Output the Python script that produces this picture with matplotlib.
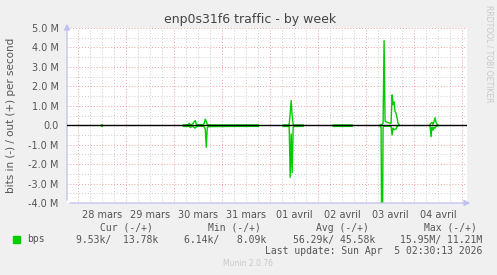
"""Munin weekly traffic graph for enp0s31f6 (rrdtool look-alike)."""

import matplotlib
matplotlib.use("Agg")
import matplotlib.pyplot as plt
import numpy as np

nan = float("nan")

# hours since 28 mars 00:00, 30-minute samples; nan = no data drawn
TIME = [11.5, 12.0, nan,
        52.5, 54.0, 55.0, 55.5, 56.0, 57.0, 58.5, 59.0, 60.0, 62.5, 63.0,
        63.5, 64.0, 64.5, 65.0, 66.0, 78.0, 90.0, nan,
        102.5, 105.0, 105.5, 106.0, 106.5, 107.0, 107.5, 108.0, 112.5, nan,
        127.5, 137.0, nan,
        151.0, 151.5, 152.0, 152.5, 153.0, 153.5, 154.5, 155.5, 156.5, 157.0,
        157.5, 158.0, 158.5, 159.0, 159.5, 160.0, 160.5, nan,
        176.0, 176.5, 177.0, 177.5, 178.0, 178.5, 179.0, 179.5, 180.0]
# out (+), Mbit/s
OUT = [0.01, 0.01, nan,
       0.01, 0.02, 0.03, 0.10, 0.02, 0.05, 0.24, 0.04, 0.03, 0.03, 0.10,
       0.31, 0.20, 0.04, 0.02, 0.01, 0.01, 0.01, nan,
       0.01, 0.01, 0.05, 0.60, 1.27, 0.50, 0.05, 0.01, 0.01, nan,
       0.01, 0.01, nan,
       0.01, 0.02, 0.05, 0.10, 4.35, 0.20, 0.15, 0.12, 0.10, 1.56,
       1.05, 1.20, 0.70, 0.62, 0.36, 0.10, 0.02, nan,
       0.02, 0.10, 0.15, 0.05, 0.20, 0.38, 0.15, 0.05, 0.01]
# in (-), Mbit/s (drawn below zero)
IN = [0.05, 0.05, nan,
      0.06, 0.06, 0.05, 0.03, 0.12, 0.05, 0.15, 0.06, 0.05, 0.05, 0.10,
      0.20, 1.13, 0.12, 0.08, 0.07, 0.06, 0.06, nan,
      0.06, 0.06, 0.08, 2.68, 0.45, 2.44, 0.10, 0.06, 0.06, nan,
      0.06, 0.06, nan,
      0.05, 0.10, 9.00, 0.10, 0.05, 0.05, 0.05, 0.05, 0.05, 0.50,
      0.15, 0.24, 0.20, 0.20, 0.07, 0.03, 0.02, nan,
      0.05, 0.59, 0.10, 0.25, 0.10, 0.15, 0.05, 0.03, 0.02]

DAY_LABELS = ["28 mars", "29 mars", "30 mars", "31 mars",
              "01 avril", "02 avril", "03 avril", "04 avril"]
Y_TICKS = [5, 4, 3, 2, 1, 0, -1, -2, -3, -4]
Y_LABELS = ["5.0 M", "4.0 M", "3.0 M", "2.0 M", "1.0 M", "0.0",
            "-1.0 M", "-2.0 M", "-3.0 M", "-4.0 M"]

LEGEND_HEAD = ["Cur (-/+)", "Min (-/+)", "Avg (-/+)", "Max (-/+)"]
LEGEND_VALS = ["9.53k/  13.78k", "6.14k/   8.09k",
               "56.29k/ 45.58k", "15.95M/ 11.21M"]

GREEN = "#00CC00"
TXT = "#555555"
W, H = 497, 275

fig = plt.figure(figsize=(W / 100, H / 100), dpi=100, facecolor="#F0F0F0")
ax = fig.add_axes([67 / W, 72 / H, 400 / W, 175 / H])
ax.set_facecolor("white")
x0, x1 = -5.7, 194.5
ax.set_xlim(x0, x1)
ax.set_ylim(-4, 5)

# grid: minor every 6 h / 0.5 M, major every day / 1 M
for h in np.arange(-6, 195, 6):
    major = h % 24 == 0
    ax.axvline(h, color="#F0A0A0" if major else "#CCCCCC", lw=0.7,
               ls=(0, (1, 2)), zorder=1)
for v in np.arange(-4, 5.01, 0.5):
    major = v == int(v)
    ax.axhline(v, color="#F0A0A0" if major else "#CCCCCC", lw=0.7,
               ls=(0, (1, 2)), zorder=1)

t = np.array(TIME)
ax.plot(t, np.array(OUT), color=GREEN, lw=1.0, zorder=3)
ax.plot(t, -np.array(IN), color=GREEN, lw=1.0, zorder=3)
ax.axhline(0, color="black", lw=1.0, zorder=4)

for s in ax.spines.values():
    s.set_visible(False)
ax.set_xticks([12 + 24 * i for i in range(len(DAY_LABELS))])
ax.set_xticklabels(DAY_LABELS)
ax.set_yticks(Y_TICKS)
ax.set_yticklabels(Y_LABELS)
ax.tick_params(length=0, labelsize=7, colors=TXT)
ax.tick_params(axis="x", pad=5)
ax.tick_params(axis="y", pad=6)

# axis lines with arrows, rrdtool style
axis_c = "#C0C0F0"
ax.annotate("", xy=(0, 1.04), xytext=(0, 0), xycoords="axes fraction",
            arrowprops=dict(arrowstyle="-|>,head_length=0.35,head_width=0.18",
                            color=axis_c, lw=0.9), annotation_clip=False)
ax.annotate("", xy=(1.015, 0), xytext=(0, 0), xycoords="axes fraction",
            arrowprops=dict(arrowstyle="-|>,head_length=0.35,head_width=0.18",
                            color=axis_c, lw=0.9), annotation_clip=False)

fig.text(250 / W, 1 - 19 / H, "enp0s31f6 traffic - by week", ha="center",
         va="center", fontsize=9, color="#444444")
fig.text(11 / W, 1 - 115 / H, "bits in (-) / out (+) per second",
         rotation=90, ha="center", va="center", fontsize=7.5, color=TXT)
fig.text(489 / W, 1 - 5 / H, "RRDTOOL / TOBI OETIKER", rotation=270,
         ha="center", va="top", fontsize=5.5, color="#C8C8C8")

mono = "DejaVu Sans Mono"
ends = [158.5, 266.5, 375, 482.5]
for head, val, e in zip(LEGEND_HEAD, LEGEND_VALS, ends):
    fig.text((e - 5.7) / W, 1 - 228 / H, head, ha="right", va="center",
             fontsize=7, family=mono, color=TXT)
    fig.text(e / W, 1 - 239.5 / H, val, ha="right", va="center",
             fontsize=7, family=mono, color=TXT)
fig.patches.append(plt.Rectangle((13 / W, 1 - 243 / H), 7 / W, 7 / H,
                                 transform=fig.transFigure, color=GREEN))
fig.text(27 / W, 1 - 239.5 / H, "bps", ha="left", va="center",
         fontsize=7, family=mono, color=TXT)
fig.text(482.5 / W, 1 - 251 / H, "Last update: Sun Apr  5 02:30:13 2026",
         ha="right", va="center", fontsize=7, family=mono, color=TXT)
fig.text(248 / W, 1 - 264 / H, "Munin 2.0.76", ha="center", va="center",
         fontsize=5.5, color="#C8C8C8")

fig.savefig("out.png", dpi=100, facecolor=fig.get_facecolor())
